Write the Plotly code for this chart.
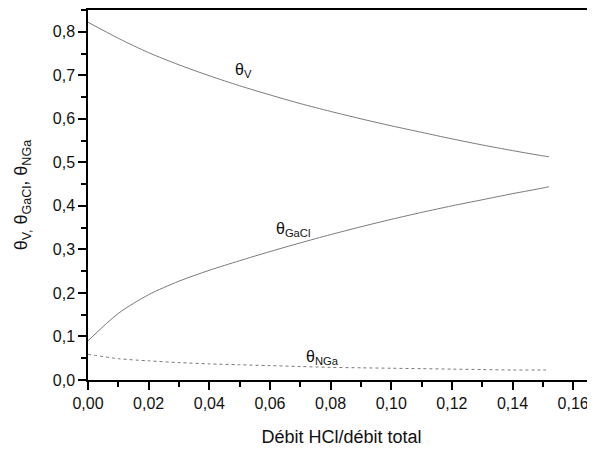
import plotly.graph_objects as go

x_vals = [0.0, 0.01, 0.02, 0.03, 0.04, 0.05, 0.06, 0.07, 0.08, 0.09, 0.10, 0.11, 0.12, 0.13, 0.14, 0.15, 0.152]
theta_v = [0.822, 0.785, 0.752, 0.724, 0.699, 0.676, 0.655, 0.635, 0.617, 0.600, 0.584, 0.569, 0.554, 0.540, 0.527, 0.515, 0.513]
theta_gacl = [0.090, 0.153, 0.196, 0.227, 0.252, 0.274, 0.295, 0.315, 0.334, 0.352, 0.369, 0.385, 0.400, 0.414, 0.428, 0.441, 0.444]
theta_nga = [0.059, 0.049, 0.044, 0.040, 0.037, 0.035, 0.033, 0.031, 0.029, 0.028, 0.027, 0.026, 0.025, 0.024, 0.023, 0.023, 0.023]

x_ticks = [0.0, 0.02, 0.04, 0.06, 0.08, 0.10, 0.12, 0.14, 0.16]
y_ticks = [0.0, 0.1, 0.2, 0.3, 0.4, 0.5, 0.6, 0.7, 0.8]

FONT = "Liberation Sans, Arial, sans-serif"
LINE = "#7a7a7a"

fig = go.Figure()
fig.add_trace(go.Scatter(x=x_vals, y=theta_v, mode="lines", line=dict(color=LINE, width=1, shape="spline", smoothing=0.8), showlegend=False))
fig.add_trace(go.Scatter(x=x_vals, y=theta_gacl, mode="lines", line=dict(color=LINE, width=1, shape="spline", smoothing=0.8), showlegend=False))
fig.add_trace(go.Scatter(x=x_vals, y=theta_nga, mode="lines", line=dict(color=LINE, width=1, dash="3px,3px", shape="spline", smoothing=0.8), showlegend=False))

ann = dict(showarrow=False, font=dict(family=FONT, size=16, color="#111"), xref="x", yref="y")
fig.add_annotation(x=0.0513, y=0.712, text="θ<sub>V</sub>", **ann)
fig.add_annotation(x=0.0675, y=0.345, text="θ<sub>GaCl</sub>", **ann)
fig.add_annotation(x=0.0774, y=0.052, text="θ<sub>NGa</sub>", **ann)

# the page body adds an 8px offset, so the figure is sized to end at the window edge
fig.update_layout(
    width=587, height=442,
    margin=dict(l=80, r=0, t=2, b=70, autoexpand=False),
    paper_bgcolor="white", plot_bgcolor="white",
    separators=", ",
    font=dict(family=FONT, size=16, color="#111"),
)
fig.update_xaxes(
    range=[0, 0.1672], tickvals=x_ticks, tickformat=".2f", automargin=False,
    showgrid=False, zeroline=False,
    showline=True, linecolor="black", linewidth=1.5, mirror=True,
    ticks="outside", ticklen=8, tickwidth=1.5, tickcolor="black",
    minor=dict(dtick=0.01, ticks="outside", ticklen=5, tickwidth=1.5, tickcolor="black", showgrid=False),
    tickfont=dict(size=16),
    title=dict(text="Débit HCl/débit total", font=dict(size=18), standoff=19),
)
fig.update_yaxes(
    range=[0, 0.85], tickvals=y_ticks, tickformat=".1f", automargin=False,
    showgrid=False, zeroline=False,
    showline=True, linecolor="black", linewidth=1.5,
    ticks="outside", ticklen=8, tickwidth=1.5, tickcolor="black",
    minor=dict(dtick=0.05, ticks="outside", ticklen=5, tickwidth=1.5, tickcolor="black", showgrid=False),
    tickfont=dict(size=16),
    title=dict(text="θ<sub>V,</sub> θ<sub>GaCl</sub>, θ<sub>NGa</sub>", font=dict(size=18), standoff=20),
)

fig.write_html("out.html")
